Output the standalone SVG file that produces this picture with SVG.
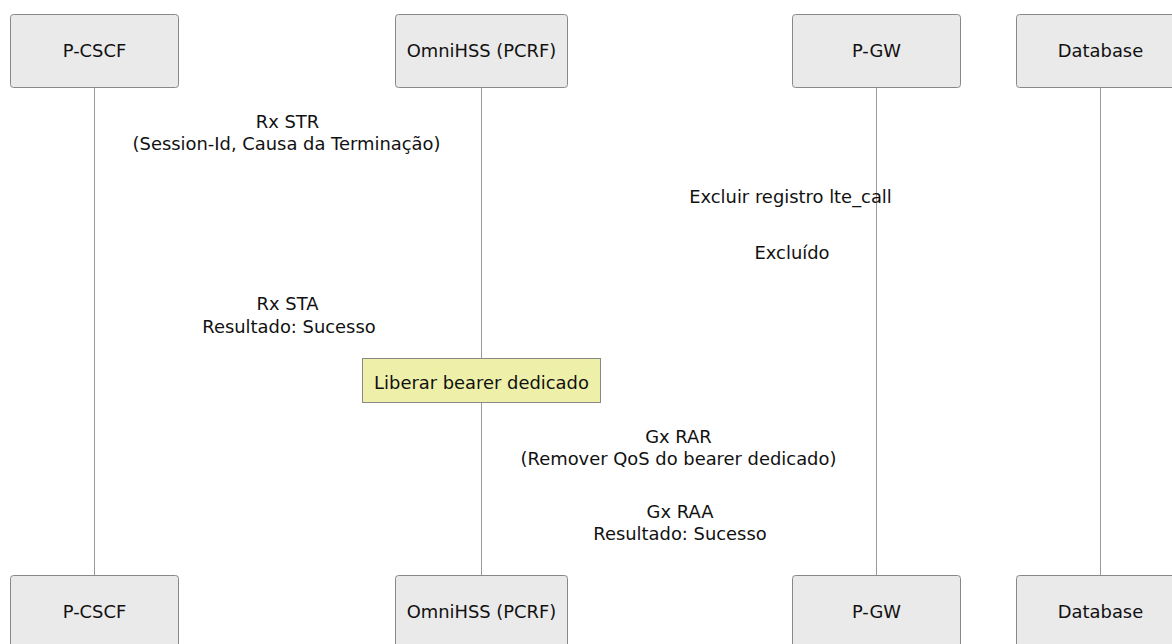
<svg xmlns="http://www.w3.org/2000/svg" width="1172" height="644" viewBox="0 0 1172 644">
  <style>
    .actor { fill: #eaeaea; stroke: #888; stroke-width: 1; }
    .lifeline { stroke: #999; stroke-width: 1; fill: none; }
    .note { fill: #eef0aa; stroke: #888; stroke-width: 1; }
    text { font-family: "DejaVu Sans", Verdana, sans-serif; font-size: 17.9px; fill: #111; text-anchor: middle; }
  </style>
  <rect width="1172" height="644" fill="#ffffff"/>

  <!-- lifelines -->
  <g id="lifelines">
    <line class="lifeline" x1="94.5" y1="87" x2="94.5" y2="575"/>
    <line class="lifeline" x1="481.5" y1="87" x2="481.5" y2="575"/>
    <line class="lifeline" x1="876.5" y1="87" x2="876.5" y2="575"/>
    <line class="lifeline" x1="1100.5" y1="87" x2="1100.5" y2="575"/>
  </g>

  <!-- participants (top) -->
  <g id="pcscf-top"><rect class="actor" x="10.5" y="14.5" width="168" height="73" rx="3"/><text x="94.5" y="57">P-CSCF</text></g>
  <g id="pcrf-top"><rect class="actor" x="395.5" y="14.5" width="172" height="73" rx="3"/><text x="481.5" y="57">OmniHSS (PCRF)</text></g>
  <g id="pgw-top"><rect class="actor" x="792.5" y="14.5" width="168" height="73" rx="3"/><text x="876.5" y="57">P-GW</text></g>
  <g id="db-top"><rect class="actor" x="1016.5" y="14.5" width="168" height="73" rx="3"/><text x="1100.5" y="57">Database</text></g>

  <!-- participants (bottom) -->
  <g id="pcscf-bottom"><rect class="actor" x="10.5" y="575.5" width="168" height="73" rx="3"/><text x="94.5" y="618">P-CSCF</text></g>
  <g id="pcrf-bottom"><rect class="actor" x="395.5" y="575.5" width="172" height="73" rx="3"/><text x="481.5" y="618">OmniHSS (PCRF)</text></g>
  <g id="pgw-bottom"><rect class="actor" x="792.5" y="575.5" width="168" height="73" rx="3"/><text x="876.5" y="618">P-GW</text></g>
  <g id="db-bottom"><rect class="actor" x="1016.5" y="575.5" width="168" height="73" rx="3"/><text x="1100.5" y="618">Database</text></g>

  <!-- message labels -->
  <g id="connectors">
    <text x="287.5" y="127.5">Rx STR</text>
    <text x="286.5" y="149.5">(Session-Id, Causa da Terminação)</text>
    <text x="790.5" y="202.5">Excluir registro lte_call</text>
    <text x="792" y="258.5">Excluído</text>
    <text x="287.5" y="309.5">Rx STA</text>
    <text x="289" y="332.5">Resultado: Sucesso</text>
    <text x="678.5" y="442.5">Gx RAR</text>
    <text x="678.5" y="464.5">(Remover QoS do bearer dedicado)</text>
    <text x="680" y="517.5">Gx RAA</text>
    <text x="680" y="539.5">Resultado: Sucesso</text>
  </g>

  <!-- note over PCRF -->
  <g id="note-release">
    <rect class="note" x="362.5" y="358.5" width="238" height="44"/>
    <text x="481.5" y="388.5">Liberar bearer dedicado</text>
  </g>
</svg>
